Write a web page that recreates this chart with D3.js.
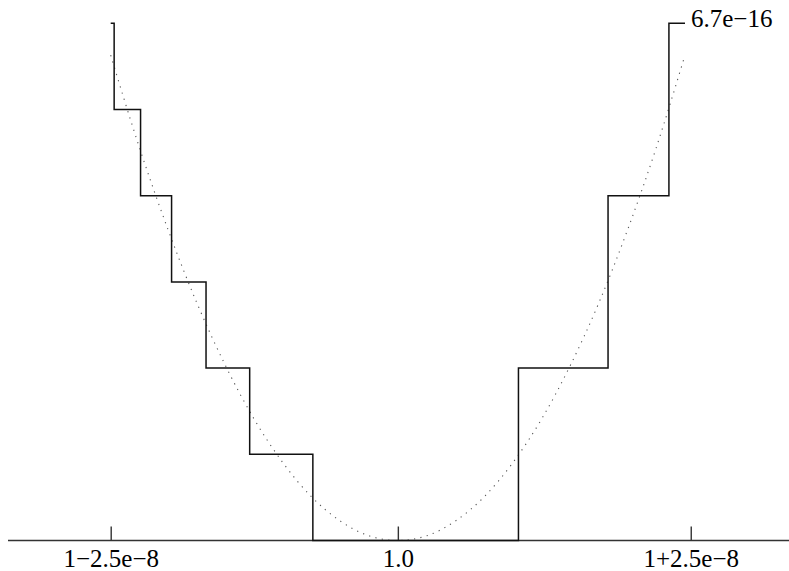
<!DOCTYPE html>
<html lang="en">
<head>
    <meta charset="UTF-8">
    <title>Step error near 1.0</title>
    <script src="https://cdn.jsdelivr.net/npm/d3@7/dist/d3.min.js"></script>
    <style>
        body { margin: 0; background: #fff; }
    </style>
</head>
<body>
    <svg width="789" height="571"></svg>

    <script>
        // x offsets from 1.0, in units of 1e-8; y values in units of 1e-16
        var stepX = [-2.5, -2.47, -2.24, -1.97, -1.67, -1.29, -0.74, 1.05, 1.83, 2.36, 2.5];
        var stepY = [6.66, 5.55, 4.44, 3.33, 2.22, 1.11, 0, 2.22, 4.44, 6.66, 6.66];

        // dotted exact curve
        var curveX = [-2.5, -2.25, -2, -1.75, -1.5, -1.25, -1, -0.75, -0.5, -0.25, 0,
                      0.25, 0.5, 0.75, 1, 1.25, 1.5, 1.75, 2, 2.25, 2.5];
        var curveY = [6.25, 5.06, 4.0, 3.06, 2.25, 1.56, 1.0, 0.56, 0.25, 0.06, 0,
                      0.06, 0.25, 0.56, 1.0, 1.56, 2.25, 3.06, 4.0, 5.06, 6.25];

        var tickVals = [-2.5, 0, 2.55];
        var tickLabels = ['1\u22122.5e\u22128', '1.0', '1+2.5e\u22128'];
        var topLabel = '6.7e\u221216';

        var svg = d3.select('svg');
        var width = +svg.attr('width');
        var height = +svg.attr('height');

        var x = d3.scaleLinear().domain([-2.5, 2.5]).range([110.7, 685]);
        var y = d3.scaleLinear().domain([0, 6.66]).range([540.5, 23.3]);

        // baseline across the page
        svg.append('line')
            .attr('x1', 8).attr('x2', width)
            .attr('y1', y(0)).attr('y2', y(0))
            .attr('stroke', '#333').attr('stroke-width', 1.4);

        // ticks pointing up, labels below
        var axis = d3.axisBottom(x)
            .tickValues(tickVals)
            .tickFormat(function (d, i) { return tickLabels[i]; })
            .tickSize(-14)
            .tickSizeOuter(0)
            .tickPadding(9);

        var gx = svg.append('g')
            .attr('transform', 'translate(0,' + y(0) + ')')
            .call(axis)
            .attr('font-family', 'Liberation Serif')
            .attr('font-size', 25);
        gx.select('.domain').remove();
        gx.selectAll('.tick line').attr('stroke', '#333').attr('stroke-width', 1.4);
        gx.selectAll('.tick text').attr('fill', '#000');

        // dotted curve
        var curveData = curveX.map(function (d, i) { return [d, curveY[i]]; });
        svg.append('path')
            .datum(curveData)
            .attr('fill', 'none')
            .attr('stroke', '#555')
            .attr('stroke-width', 1.1)
            .attr('stroke-dasharray', '1.2,5.3')
            .attr('d', d3.line()
                .curve(d3.curveMonotoneX)
                .x(function (d) { return x(d[0]); })
                .y(function (d) { return y(d[1]); }));

        // staircase
        var stepData = stepX.map(function (d, i) { return [d, stepY[i]]; });
        svg.append('path')
            .datum(stepData)
            .attr('fill', 'none')
            .attr('stroke', '#111')
            .attr('stroke-width', 1.5)
            .attr('d', d3.line()
                .curve(d3.curveStepAfter)
                .x(function (d) { return x(d[0]); })
                .y(function (d) { return y(d[1]); }));

        // value label at the top right
        var last = stepData[stepData.length - 1];
        svg.append('text')
            .attr('x', x(last[0]) + 6)
            .attr('y', y(last[1]) + 4)
            .attr('fill', '#000')
            .attr('font-family', 'Liberation Serif')
            .attr('font-size', 25)
            .text(topLabel);
    </script>
</body>
</html>
